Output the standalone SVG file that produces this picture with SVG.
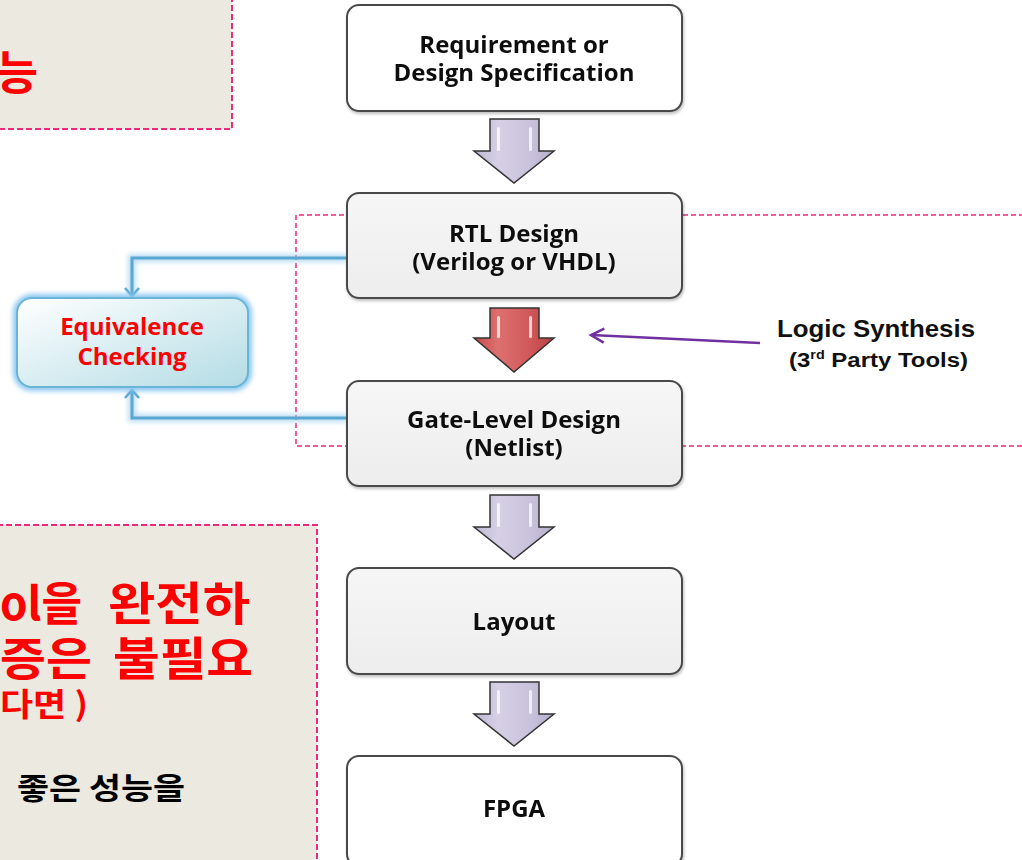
<svg xmlns="http://www.w3.org/2000/svg" width="1022" height="860" viewBox="0 0 1022 860">
<defs>
<style>
.note{fill:#ECE9E0;stroke:#F0287C;stroke-width:2;stroke-dasharray:6 3}
.box{stroke:#4a4a4a;stroke-width:2}
.white{fill:#ffffff}
.gray{fill:url(#grayGrad)}
.bt{font-family:"Open Sans","Noto Sans",sans-serif;font-weight:700;font-size:24px;fill:#111;text-anchor:middle}
.kr{font-family:"Noto Sans CJK KR",sans-serif;font-weight:700}
.red{fill:#FF0000}
.barrow{fill:url(#lavGrad);stroke:#333;stroke-width:1.5;stroke-linejoin:miter}
.rarrow{fill:url(#redGrad);stroke:#333;stroke-width:1.5}
.blue{fill:none;stroke:#5AA8D2;stroke-width:3}
.glow{fill:none;stroke:#9FD0F0;stroke-width:8;opacity:0.7}
.pinkdash{fill:none;stroke:#F0287C;stroke-width:1.5;stroke-dasharray:5 3}
.ls{font-family:"Liberation Sans",Arial,sans-serif;font-weight:700;fill:#111}
</style>
<linearGradient id="grayGrad" x1="0" y1="0" x2="0" y2="1">
<stop offset="0" stop-color="#F6F6F6"/><stop offset="1" stop-color="#EDEDED"/>
</linearGradient>
<linearGradient id="lavGrad" x1="0" y1="0" x2="1" y2="0">
<stop offset="0" stop-color="#BDB6D2"/><stop offset="0.3" stop-color="#D6D0E6"/><stop offset="0.7" stop-color="#C9C2DC"/><stop offset="1" stop-color="#B7AFCC"/>
</linearGradient>
<linearGradient id="redGrad" x1="0" y1="0" x2="1" y2="0">
<stop offset="0" stop-color="#C84848"/><stop offset="0.3" stop-color="#DE7070"/><stop offset="0.7" stop-color="#D05858"/><stop offset="1" stop-color="#B84040"/>
</linearGradient>
<linearGradient id="eqGrad" x1="0" y1="0" x2="1" y2="1">
<stop offset="0" stop-color="#FFFFFF"/><stop offset="1" stop-color="#B3DCE5"/>
</linearGradient>
<filter id="blur" x="-20%" y="-20%" width="140%" height="140%"><feGaussianBlur stdDeviation="2.5"/></filter>
<filter id="shadow" x="-5%" y="-5%" width="110%" height="115%"><feDropShadow dx="1" dy="2" stdDeviation="1.5" flood-color="#000" flood-opacity="0.25"/></filter>
<marker id="openDown" markerWidth="20" markerHeight="20" refX="10" refY="10" orient="auto" markerUnits="userSpaceOnUse">
<polyline points="2,3 10,10 2,17" fill="none" stroke="#5AA8D2" stroke-width="2.5"/>
</marker>
<marker id="purpleHead" markerWidth="20" markerHeight="20" refX="16" refY="10" orient="auto" markerUnits="userSpaceOnUse">
<polyline points="3,3 16,10 3,17" fill="none" stroke="#7030A0" stroke-width="2.5"/>
</marker>
</defs>
<rect width="1022" height="860" fill="#ffffff"/>

<g id="note-top">
<rect class="note" x="-3" y="-3" width="235" height="132"/>
<text class="kr red" x="38" y="89" font-size="46" text-anchor="end">능</text>
</g>

<g id="note-bottom">
<rect class="note" x="-3" y="525" width="320" height="340"/>
<text class="kr red" x="0" y="620" font-size="46" textLength="82" lengthAdjust="spacingAndGlyphs">ol을</text>
<text class="kr red" x="108" y="620" font-size="46" textLength="142" lengthAdjust="spacingAndGlyphs">완전하</text>
<text class="kr red" x="0" y="675" font-size="46" textLength="92" lengthAdjust="spacingAndGlyphs">증은</text>
<text class="kr red" x="113" y="675" font-size="46" textLength="140" lengthAdjust="spacingAndGlyphs">불필요</text>
<text class="kr red" x="0" y="716" font-size="32" textLength="88" lengthAdjust="spacingAndGlyphs">다면 )</text>
<text class="kr" x="17" y="799" font-size="30" textLength="168" lengthAdjust="spacingAndGlyphs" fill="#000">좋은 성능을</text>
</g>

<g id="synth-region">
<path class="pinkdash" d="M1024,215 H296 V446 H1024"/>
</g>

<g id="connectors">
<path class="glow" filter="url(#blur)" d="M347,258 H132 V296 M347,418 H132 V389"/>
<path class="blue" d="M347,258 H132 V296" marker-end="url(#openDown)"/>
<path class="blue" d="M347,418 H132 V390" marker-end="url(#openDown)"/>
<line x1="760" y1="343" x2="591" y2="335" stroke="#7030A0" stroke-width="2.5" marker-end="url(#purpleHead)"/>
<polygon class="barrow" points="490,119 539,119 539,151 554,151 514,183 474,151 490,151"/>
<polygon class="rarrow" points="490,308 539,308 539,338 554,338 514,372 474,338 490,338"/>
<polygon class="barrow" points="490,495 539,495 539,527 554,527 514,559 474,527 490,527"/>
<polygon class="barrow" points="490,682 539,682 539,714 554,714 514,746 474,714 490,714"/>
<g fill="#ffffff" opacity="0.75">
<rect x="497" y="127" width="3" height="24" rx="1.5"/><rect x="529" y="127" width="3" height="24" rx="1.5"/>
<rect x="497" y="316" width="3" height="22" rx="1.5"/><rect x="529" y="316" width="3" height="22" rx="1.5"/>
<rect x="497" y="503" width="3" height="24" rx="1.5"/><rect x="529" y="503" width="3" height="24" rx="1.5"/>
<rect x="497" y="690" width="3" height="24" rx="1.5"/><rect x="529" y="690" width="3" height="24" rx="1.5"/>
</g>
</g>

<g id="node-req" filter="url(#shadow)">
<rect class="box white" x="347" y="5" width="335" height="106" rx="12"/>
<text class="bt" x="514" y="53">Requirement or</text>
<text class="bt" x="514" y="81">Design Specification</text>
</g>

<g id="node-rtl" filter="url(#shadow)">
<rect class="box gray" x="347" y="193" width="335" height="105" rx="12"/>
<text class="bt" x="514" y="242">RTL Design</text>
<text class="bt" x="514" y="270">(Verilog or VHDL)</text>
</g>

<g id="node-gate" filter="url(#shadow)">
<rect class="box gray" x="347" y="381" width="335" height="105" rx="12"/>
<text class="bt" x="514" y="428">Gate-Level Design</text>
<text class="bt" x="514" y="456">(Netlist)</text>
</g>

<g id="node-layout" filter="url(#shadow)">
<rect class="box gray" x="347" y="568" width="335" height="106" rx="12"/>
<text class="bt" x="514" y="630">Layout</text>
</g>

<g id="node-fpga" filter="url(#shadow)">
<rect class="box white" x="347" y="756" width="335" height="110" rx="12"/>
<text class="bt" x="514" y="817">FPGA</text>
</g>

<g id="node-equiv">
<rect x="17" y="298" width="231" height="89" rx="15" fill="none" stroke="#8CC8F0" stroke-width="8" filter="url(#blur)"/>
<rect x="17" y="298" width="231" height="89" rx="15" fill="url(#eqGrad)" stroke="#6AB4D8" stroke-width="2"/>
<text class="bt red" x="132" y="335" font-size="23">Equivalence</text>
<text class="bt red" x="132" y="365" font-size="23">Checking</text>
</g>

<g id="label-synth">
<text class="ls" x="777" y="337" font-size="24" textLength="198" lengthAdjust="spacingAndGlyphs">Logic Synthesis</text>
<text class="ls" x="789" y="367" font-size="20" textLength="179" lengthAdjust="spacingAndGlyphs">(3<tspan font-size="12" dy="-8">rd</tspan><tspan dy="8"> Party  Tools)</tspan></text>
</g>
</svg>
